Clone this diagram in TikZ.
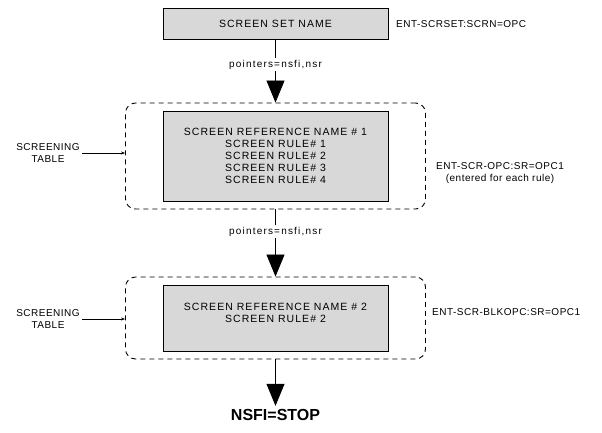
\documentclass[tikz,border=0pt]{standalone}
\usepackage{fontspec}
\setmainfont{Liberation Sans}
\newfontfamily\boxfam[LetterSpace=10]{Liberation Sans}
\newfontfamily\notefam[LetterSpace=5]{Liberation Sans}
\newfontfamily\ptrfam[LetterSpace=12]{Liberation Sans}
\usetikzlibrary{positioning, arrows.meta}
\definecolor{boxgray}{RGB}{216,216,216}

\begin{document}
\begin{tikzpicture}[x=1pt, y=-1pt,
  box/.style={draw, line width=0.9pt, fill=boxgray, minimum width=225pt, align=center, inner sep=0pt, font={\boxfam\fontsize{10.5}{12}\selectfont}},
  tablebox/.style={draw, dash pattern=on 5pt off 4pt, rounded corners=10pt, line width=0.9pt, minimum width=300pt},
  note/.style={align=center, inner sep=2pt, font={\notefam\fontsize{10}{12}\selectfont}},
  ptr/.style={fill=white, inner sep=2pt, font={\ptrfam\fontsize{10}{12}\selectfont}},
  arr/.style={-{Triangle[width=18pt,length=22pt]}, line width=0.8pt},
  sarr/.style={-{Stealth[length=4pt,width=3pt]}, line width=0.6pt}]
  \useasboundingbox (0,0) rectangle (602,432);

  % main column
  \node[box, minimum height=31pt] (setname) at (275.5,23.5) {SCREEN SET NAME};
  \node[tablebox, minimum height=106pt] (table1) at (275.5,156) {};
  \node[box, minimum height=90pt] (ref1) at (275.5,156) {SCREEN REFERENCE NAME \# 1\\SCREEN RULE\# 1\\SCREEN RULE\# 2\\SCREEN RULE\# 3\\SCREEN RULE\# 4};
  \node[tablebox, minimum height=82pt] (table2) at (275.5,318) {};
  \node[box, minimum height=66pt, text depth=10pt] (ref2) at (275.5,318) {SCREEN REFERENCE NAME \# 2\\SCREEN RULE\# 2};
  \node[font={\bfseries\fontsize{16}{18}\selectfont}] (stop) at (275.5,415) {NSFI=STOP};

  % side labels
  \node[note, anchor=west] (settag) at (394,24) {ENT-SCRSET:SCRN=OPC};
  \node[note, anchor=west] (opctag) at (434,173) {ENT-SCR-OPC:SR=OPC1\\(entered for each rule)};
  \node[note, anchor=west] (blktag) at (430,312) {ENT-SCR-BLKOPC:SR=OPC1};
  \node[note] (screen1) at (48,153) {SCREENING\\TABLE};
  \node[note] (screen2) at (48,319) {SCREENING\\TABLE};

  \draw[arr] (setname) -- node[ptr, pos=0.4] {pointers=nsfi,nsr} (table1);
  \draw[arr] (table1) -- node[ptr, pos=0.33] {pointers=nsfi,nsr} (table2);
  \draw[arr] (table2) -- (stop);
  \draw[sarr] (screen1.east) -- (screen1.east -| table1.west);
  \draw[sarr] (screen2.east) -- (screen2.east -| table2.west);
\end{tikzpicture}
\end{document}
